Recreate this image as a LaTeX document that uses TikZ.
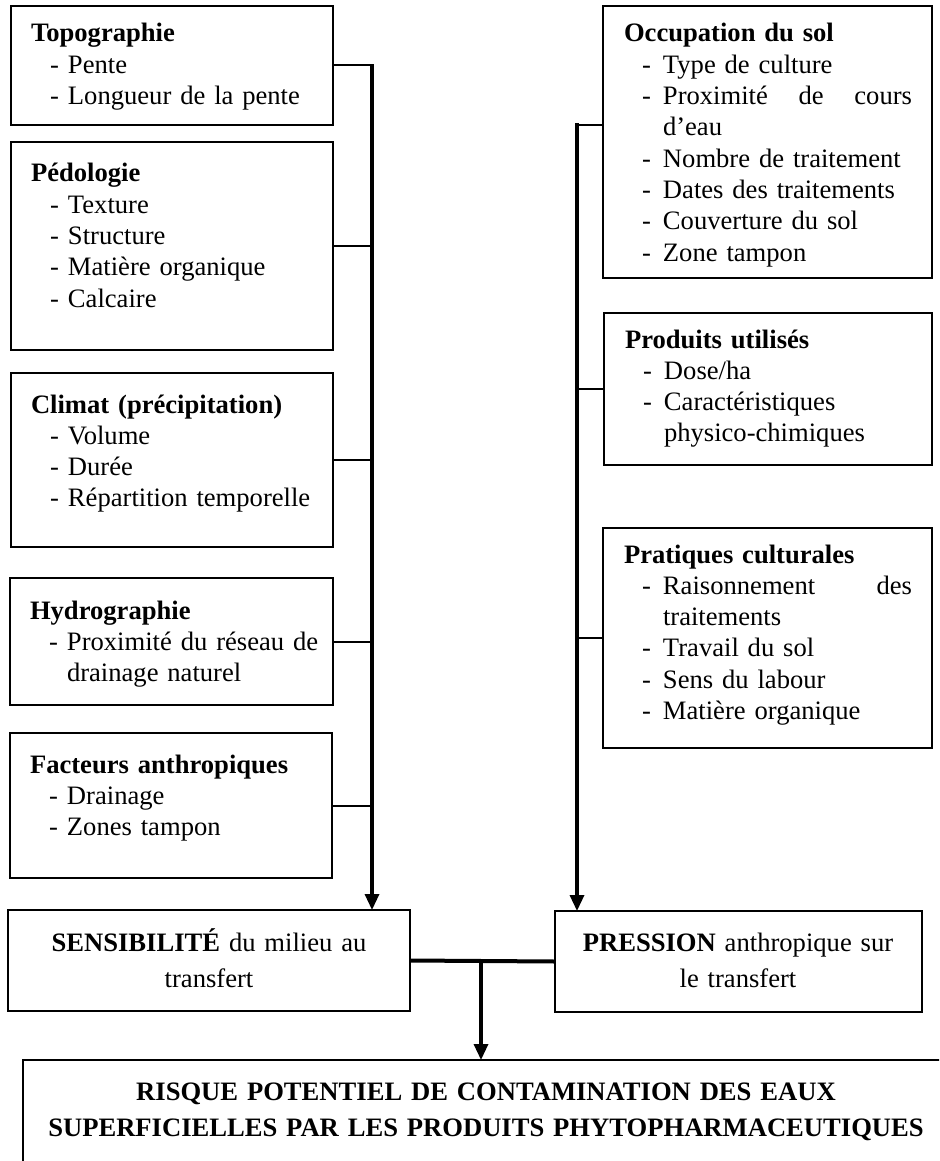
\documentclass[tikz,border=0pt]{standalone}
\usepackage{fontspec}
\setmainfont{Liberation Serif}
\usetikzlibrary{fit,arrows.meta}
\newcommand\itmL[1]{\hspace*{19pt}\makebox[18pt][l]{-}#1}
\newcommand\itmR[1]{\hspace*{18pt}\makebox[21pt][l]{-}#1}
\newcommand\contL{\hspace*{37pt}}
\newcommand\contR{\hspace*{39pt}}
\begin{document}
\begin{tikzpicture}[x=1pt,y=-1pt,
  box/.style={draw=black, line width=1.1pt, inner sep=0pt, outer sep=0pt, rectangle},
  txt/.style={anchor=base west, inner sep=0pt, outer sep=0pt, align=left,
    text width=330pt, font=\fontsize{26.6}{31.3}\selectfont},
  ctxt/.style={anchor=base, inner sep=0pt, outer sep=0pt, align=center,
    text width=#1, font=\fontsize{26.6}{36.8}\selectfont},
  branch/.style={draw=black, line width=2pt},
  trunk/.style={draw=black, line width=3.3pt, line cap=rect},
  bar/.style={draw=black, line width=4pt},
  arr/.style={-{Triangle[width=14pt,length=16pt]}}
]
\useasboundingbox (0,0) rectangle (939,1161);
\clip (0,0) rectangle (939,1161);

% left column
\node[box, fit={(11,6)(333,125)}] (topo) {};
\node[txt] (topoT) at (31,42) {\textbf{Topographie}\\
  \itmL{Pente}\\
  \itmL{Longueur de la pente}};

\node[box, fit={(11,142)(333,350)}] (pedo) {};
\node[txt] (pedoT) at (31,182) {\textbf{Pédologie}\\
  \itmL{Texture}\\
  \itmL{Structure}\\
  \itmL{Matière organique}\\
  \itmL{Calcaire}};

\node[box, fit={(11,373)(333,547)}] (clim) {};
\node[txt] (climT) at (31,413) {\textbf{Climat (précipitation)}\\
  \itmL{Volume}\\
  \itmL{Durée}\\
  \itmL{Répartition temporelle}};

\node[box, fit={(10,578)(333,705)}] (hydro) {};
\node[txt] (hydroT) at (30,619) {\textbf{Hydrographie}\\
  \itmL{Proximité du réseau de}\\
  \contL drainage naturel};

\node[box, fit={(10,733)(332,878)}] (fact) {};
\node[txt] (factT) at (30,773) {\textbf{Facteurs anthropiques}\\
  \itmL{Drainage}\\
  \itmL{Zones tampon}};

% right column
\node[box, fit={(603,6)(932,278)}] (occ) {};
\node[txt] (occT) at (624,42) {\textbf{Occupation du sol}\\
  \itmR{Type de culture}\\
  \itmR{\makebox[249pt][l]{Proximité\hfill de\hfill cours}}\\
  \contR d’eau\\
  \itmR{Nombre de traitement}\\
  \itmR{Dates des traitements}\\
  \itmR{Couverture du sol}\\
  \itmR{Zone tampon}};

\node[box, fit={(604,313)(932,465)}] (prod) {};
\node[txt] (prodT) at (625,348) {\textbf{Produits utilisés}\\
  \itmR{Dose/ha}\\
  \itmR{Caractéristiques}\\
  \contR physico-chimiques};

\node[box, fit={(603,528)(932,748)}] (prat) {};
\node[txt] (pratT) at (624,563) {\textbf{Pratiques culturales}\\
  \itmR{\makebox[249pt][l]{Raisonnement\hfill des}}\\
  \contR traitements\\
  \itmR{Travail du sol}\\
  \itmR{Sens du labour}\\
  \itmR{Matière organique}};

% bottom boxes
\node[box, fit={(8,910)(410,1011)}] (sens) {};
\node[ctxt=390pt] (sensT) at (209,951) {\textbf{SENSIBILITÉ} du milieu au\\ transfert};

\node[box, fit={(555,911)(922,1012)}] (press) {};
\node[ctxt=360pt] (pressT) at (738,951) {\textbf{PRESSION} anthropique sur\\ le transfert};

\node[box, fit={(23,1060)(949,1220)}] (risk) {};
\node[ctxt=930pt] (riskT) at (486,1100) {\textbf{RISQUE POTENTIEL DE CONTAMINATION DES EAUX\\ SUPERFICIELLES PAR LES PRODUITS PHYTOPHARMACEUTIQUES}};

% left connectors
\coordinate (lt) at ([xshift=39pt]topo.east);
\draw[branch] (topo.east) -- (lt);
\draw[branch] (pedo.east) -- (pedo.east -| lt);
\draw[branch] (clim.east) -- (clim.east -| lt);
\draw[branch] (hydro.east) -- (hydro.east -| lt);
\draw[branch] (fact.east) -- (fact.east -| lt);
\draw[trunk, arr] (lt) -- (lt |- sens.north);

% right connectors
\coordinate (rt) at (577,125);
\draw[branch] (rt) -- (rt -| occ.west);
\draw[branch] (prod.west) -- (prod.west -| rt);
\draw[branch] (prat.west) -- (prat.west -| rt);
\draw[trunk, arr] (rt) -- (rt |- press.north);

% bottom connectors
\draw[bar] (sens.east) -- (press.west);
\coordinate (jn) at (481,961);
\draw[trunk, arr] (jn) -- (jn |- risk.north);
\end{tikzpicture}
\end{document}
